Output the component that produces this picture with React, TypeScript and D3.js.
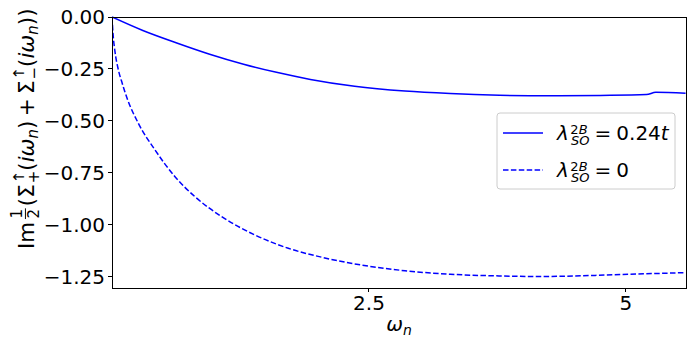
import React, { useEffect, useRef } from "react";
import * as d3 from "d3";

// solid curve, lambda_SO^2B = 0.24t
const solidOmega = [0, 0.3, 0.63, 0.95, 1.28, 1.6, 1.93, 2.36, 2.85, 3.29, 3.77, 4.26, 4.75, 5.2, 5.29, 5.58];
const solidIm = [0, -0.065, -0.125, -0.179, -0.227, -0.266, -0.3, -0.333, -0.356, -0.368, -0.376, -0.379, -0.377, -0.373, -0.362, -0.367];

// dashed curve, lambda_SO^2B = 0
const dashOmega = [0, 0.01, 0.03, 0.06, 0.1, 0.153, 0.256, 0.418, 0.613, 0.807, 1.067, 1.39, 1.715, 2.04, 2.36, 2.85, 3.29, 3.77, 4.16, 4.58, 5.04, 5.58];
const dashIm = [0, -0.08, -0.17, -0.25, -0.32, -0.399, -0.511, -0.639, -0.768, -0.864, -0.96, -1.048, -1.112, -1.155, -1.187, -1.22, -1.237, -1.245, -1.248, -1.244, -1.237, -1.229];

const xTicks = [2.5, 5];
const xTickLabels = ["2.5", "5"];
const yTicks = [0, -0.25, -0.5, -0.75, -1.0, -1.25];
const legendValues = ["0.24", "0"];
const legendSuffix = ["t", ""];

const FONT = "DejaVu Sans";
const BLUE = "#0000ff";

type Part = { t: string; it?: boolean; size?: number; dx?: number; dy?: number };

// append mathtext-like pieces as tspans
function addParts(text: any, parts: Part[]) {
	parts.forEach((p) => {
		const ts = text.append("tspan").text(p.t);
		if (p.it) ts.attr("font-style", "italic");
		if (p.size) ts.attr("font-size", p.size);
		if (p.dx) ts.attr("dx", p.dx);
		if (p.dy) ts.attr("dy", p.dy);
	});
}

const SelfEnergyChart = () => {
	const svgRef = useRef<SVGSVGElement>(null);

	useEffect(() => {
		const svg = d3.select(svgRef.current);
		svg.selectAll("*").remove();

		const left = 112, right = 686, top = 17, bottom = 288;

		const x = d3.scaleLinear().domain([0, 5.584]).range([left, right]);
		const y = d3.scaleLinear().domain([-1.303, 0]).range([bottom, top]);

		svg.append("rect").attr("width", 697).attr("height", 348).attr("fill", "#fff");

		svg
			.append("clipPath")
			.attr("id", "plot-clip")
			.append("rect")
			.attr("x", left)
			.attr("y", top - 2)
			.attr("width", right - left)
			.attr("height", bottom - top + 2);

		const line = d3
			.line<[number, number]>()
			.x((d) => x(d[0]))
			.y((d) => y(d[1]))
			.curve(d3.curveMonotoneX);

		const plot = svg.append("g").attr("clip-path", "url(#plot-clip)");

		plot
			.append("path")
			.attr("d", line(solidOmega.map((w, i) => [w, solidIm[i]] as [number, number])))
			.attr("fill", "none")
			.attr("stroke", BLUE)
			.attr("stroke-width", 1.5);

		plot
			.append("path")
			.attr("d", line(dashOmega.map((w, i) => [w, dashIm[i]] as [number, number])))
			.attr("fill", "none")
			.attr("stroke", BLUE)
			.attr("stroke-width", 1.5)
			.attr("stroke-dasharray", "5.5,2.4");

		// frame
		svg
			.append("rect")
			.attr("x", left)
			.attr("y", top)
			.attr("width", right - left)
			.attr("height", bottom - top)
			.attr("fill", "none")
			.attr("stroke", "#000")
			.attr("stroke-width", 1)
			.attr("shape-rendering", "crispEdges");

		// x ticks
		xTicks.forEach((t, i) => {
			svg
				.append("line")
				.attr("x1", x(t))
				.attr("x2", x(t))
				.attr("y1", bottom)
				.attr("y2", bottom + 4)
				.attr("stroke", "#000")
				.attr("shape-rendering", "crispEdges");
			svg
				.append("text")
				.attr("x", x(t))
				.attr("y", bottom + 22)
				.attr("text-anchor", "middle")
				.attr("font-family", FONT)
				.attr("font-size", 20)
				.text(xTickLabels[i]);
		});

		// y ticks
		const fmt = d3.format(".2f");
		yTicks.forEach((t) => {
			svg
				.append("line")
				.attr("x1", left - 4)
				.attr("x2", left)
				.attr("y1", y(t))
				.attr("y2", y(t))
				.attr("stroke", "#000")
				.attr("shape-rendering", "crispEdges");
			svg
				.append("text")
				.attr("x", left - 7)
				.attr("y", y(t) + 7.3)
				.attr("text-anchor", "end")
				.attr("font-family", FONT)
				.attr("font-size", 20)
				.text(fmt(t));
		});

		// x label
		const xl = svg
			.append("text")
			.attr("x", (left + right) / 2)
			.attr("y", 331)
			.attr("text-anchor", "middle")
			.attr("font-family", FONT)
			.attr("font-size", 20);
		addParts(xl, [{ t: "ω", it: true }, { t: "n", it: true, size: 14, dy: 4 }]);

		// y label, rotated
		const yl = svg
			.append("g")
			.attr("transform", "translate(34,249) rotate(-90) scale(1.07)")
			.attr("font-family", FONT)
			.attr("fill", "#000");
		yl.append("text").attr("x", 0).attr("y", 0).attr("font-size", 20).text("Im");
		yl.append("text").attr("x", 33).attr("y", -11.5).attr("font-size", 14).attr("text-anchor", "middle").text("1");
		yl.append("line").attr("x1", 28).attr("x2", 38).attr("y1", -8).attr("y2", -8).attr("stroke", "#000").attr("stroke-width", 0.9);
		yl.append("text").attr("x", 33).attr("y", 4.5).attr("font-size", 14).attr("text-anchor", "middle").text("2");
		const ylMain = yl.append("text").attr("x", 40).attr("y", 0).attr("font-size", 20);
		const sigmaArgs: Part[] = [
			{ t: "(" },
			{ t: "i", it: true },
			{ t: "ω", it: true },
			{ t: "n", it: true, size: 14, dy: 4 },
			{ t: ")", dy: -4 },
		];
		addParts(ylMain, [
			{ t: "(" },
			{ t: "Σ" },
			{ t: "↑", size: 14, dy: -9, dx: 1 },
			{ t: "+", size: 14, dx: -11.7, dy: 14 },
			...sigmaArgs.map((p, i) => (i === 0 ? { ...p, dy: -5 } : p)),
			{ t: "+", dx: 4 },
			{ t: "Σ", dx: 4 },
			{ t: "↑", size: 14, dy: -9, dx: 1 },
			{ t: "−", size: 14, dx: -11.7, dy: 14 },
			...sigmaArgs.map((p, i) => (i === 0 ? { ...p, dy: -5 } : p)),
			{ t: ")" },
		]);

		// legend
		const lg = svg.append("g");
		lg.append("rect")
			.attr("x", 497)
			.attr("y", 113)
			.attr("width", 178)
			.attr("height", 76)
			.attr("rx", 3)
			.attr("fill", "#fff")
			.attr("fill-opacity", 0.8)
			.attr("stroke", "#cccccc")
			.attr("stroke-width", 1);
		[0, 1].forEach((i) => {
			const cy = 133 + i * 37;
			lg.append("line")
				.attr("x1", 503)
				.attr("x2", 543)
				.attr("y1", cy)
				.attr("y2", cy)
				.attr("stroke", BLUE)
				.attr("stroke-width", 1.5)
				.attr("stroke-dasharray", i === 1 ? "5.5,2.4" : null);
			const lt = lg
				.append("text")
				.attr("x", 557)
				.attr("y", cy + 7)
				.attr("font-family", FONT)
				.attr("font-size", 20);
			const parts: Part[] = [
				{ t: "λ", it: true },
				{ t: "2", size: 13, dy: -6, dx: 1.5 },
				{ t: "B", it: true, size: 13 },
				{ t: "SO", it: true, size: 13, dx: -16.5, dy: 11 },
				{ t: "=", dy: -5, dx: 5 },
				{ t: legendValues[i], dx: 5 },
			];
			if (legendSuffix[i]) parts.push({ t: legendSuffix[i], it: true });
			addParts(lt, parts);
		});
	}, []);

	return (
		<svg
			ref={svgRef}
			width={697}
			height={348}
			style={{ position: "absolute", left: 0, top: 0, display: "block" }}
		/>
	);
};

export default function App() {
	return <SelfEnergyChart />;
}
